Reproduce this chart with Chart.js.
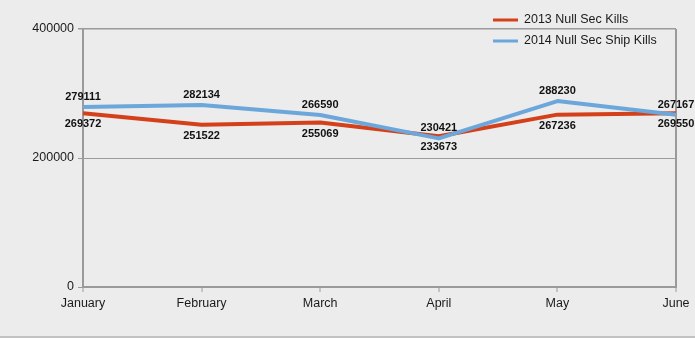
<!DOCTYPE html>
<html>
<head>
<meta charset="utf-8">
<script src="https://cdn.jsdelivr.net/npm/chart.js@4"></script>
<style>
  html, body { margin: 0; padding: 0; background: #ececec; }
  #wrap { width: 695px; height: 338px; position: relative; }
  #strip { position: absolute; left: 0; right: 0; top: 336px; height: 2px; background: #c2c2c2; }
</style>
</head>
<body>
<div id="wrap">
  <canvas id="c" width="695" height="338"></canvas>
  <div id="strip"></div>
</div>
<script>
const months = ['January', 'February', 'March', 'April', 'May', 'June'];
const seriesNames = ['2013 Null Sec Kills', '2014 Null Sec Ship Kills'];
const kills2013 = [269372, 251522, 255069, 233673, 267236, 269550];
const kills2014 = [279111, 282134, 266590, 230421, 288230, 267167];
const yTicks = [0, 200000, 400000];

const RED = '#d4401a';
const BLUE = '#6ca7db';
const AXIS = '#9a9a9a';
const FONT = '"Liberation Sans", Arial, sans-serif';

// Value labels: 2014 above its points, 2013 below
const valueLabels = {
  id: 'valueLabels',
  afterDatasetsDraw(chart) {
    const ctx = chart.ctx;
    ctx.save();
    ctx.font = 'bold 11px ' + FONT;
    ctx.fillStyle = '#111';
    ctx.textAlign = 'center';
    ctx.textBaseline = 'middle';
    chart.data.datasets.forEach((ds, i) => {
      const meta = chart.getDatasetMeta(i);
      const dy = i === 1 ? -10 : 11;
      meta.data.forEach((pt, j) => {
        ctx.fillText(String(ds.data[j]), pt.x, pt.y + dy);
      });
    });
    ctx.restore();
  }
};

// Legend in the upper right, overlapping the plot frame
const sideLegend = {
  id: 'sideLegend',
  afterDraw(chart) {
    const ctx = chart.ctx;
    ctx.save();
    ctx.font = '12.5px ' + FONT;
    ctx.textAlign = 'left';
    ctx.textBaseline = 'middle';
    chart.data.datasets.forEach((ds, i) => {
      const y = 20 + i * 21;
      ctx.strokeStyle = ds.borderColor;
      ctx.lineWidth = 3;
      ctx.beginPath();
      ctx.moveTo(493, y);
      ctx.lineTo(518, y);
      ctx.stroke();
      ctx.fillStyle = '#1a1a1a';
      ctx.fillText(ds.label, 524, y);
    });
    ctx.restore();
  }
};

new Chart(document.getElementById('c'), {
  type: 'line',
  data: {
    labels: months,
    datasets: [
      {
        label: seriesNames[0],
        data: kills2013,
        borderColor: RED,
        backgroundColor: RED,
        borderWidth: 4,
        pointRadius: 0,
        tension: 0,
        borderJoinStyle: 'round',
        order: 2
      },
      {
        label: seriesNames[1],
        data: kills2014,
        borderColor: BLUE,
        backgroundColor: BLUE,
        borderWidth: 4,
        pointRadius: 0,
        tension: 0,
        borderJoinStyle: 'round',
        order: 1
      }
    ]
  },
  options: {
    responsive: false,
    animation: false,
    events: [],
    layout: { padding: { left: 0, right: 19, top: 29, bottom: 0 } },
    plugins: {
      legend: { display: false },
      tooltip: { enabled: false },
      title: { display: false }
    },
    scales: {
      x: {
        type: 'category',
        offset: false,
        border: { display: true, color: AXIS, width: 2 },
        grid: {
          drawOnChartArea: true,
          color: (c) => (c.index === months.length - 1 ? AXIS : 'rgba(0,0,0,0)'),
          lineWidth: 2,
          tickColor: AXIS,
          tickLength: 5,
          tickWidth: 1
        },
        ticks: {
          color: '#1a1a1a',
          font: { family: FONT, size: 12.5 },
          padding: 4,
          maxRotation: 0,
          autoSkip: false
        },
        afterFit(scale) { scale.height = 51; }
      },
      y: {
        min: 0,
        max: 400000,
        border: { display: true, color: AXIS, width: 2 },
        grid: {
          color: AXIS,
          lineWidth: (c) => (c.tick && c.tick.value === 400000 ? 1.5 : 1),
          tickColor: AXIS,
          tickLength: 5
        },
        afterBuildTicks(scale) {
          scale.ticks = yTicks.map((v) => ({ value: v }));
        },
        ticks: {
          color: '#1a1a1a',
          font: { family: FONT, size: 12.5 },
          padding: 4,
          callback: (v) => String(v)
        },
        afterFit(scale) { scale.width = 83; }
      }
    }
  },
  plugins: [valueLabels, sideLegend]
});
</script>
</body>
</html>
